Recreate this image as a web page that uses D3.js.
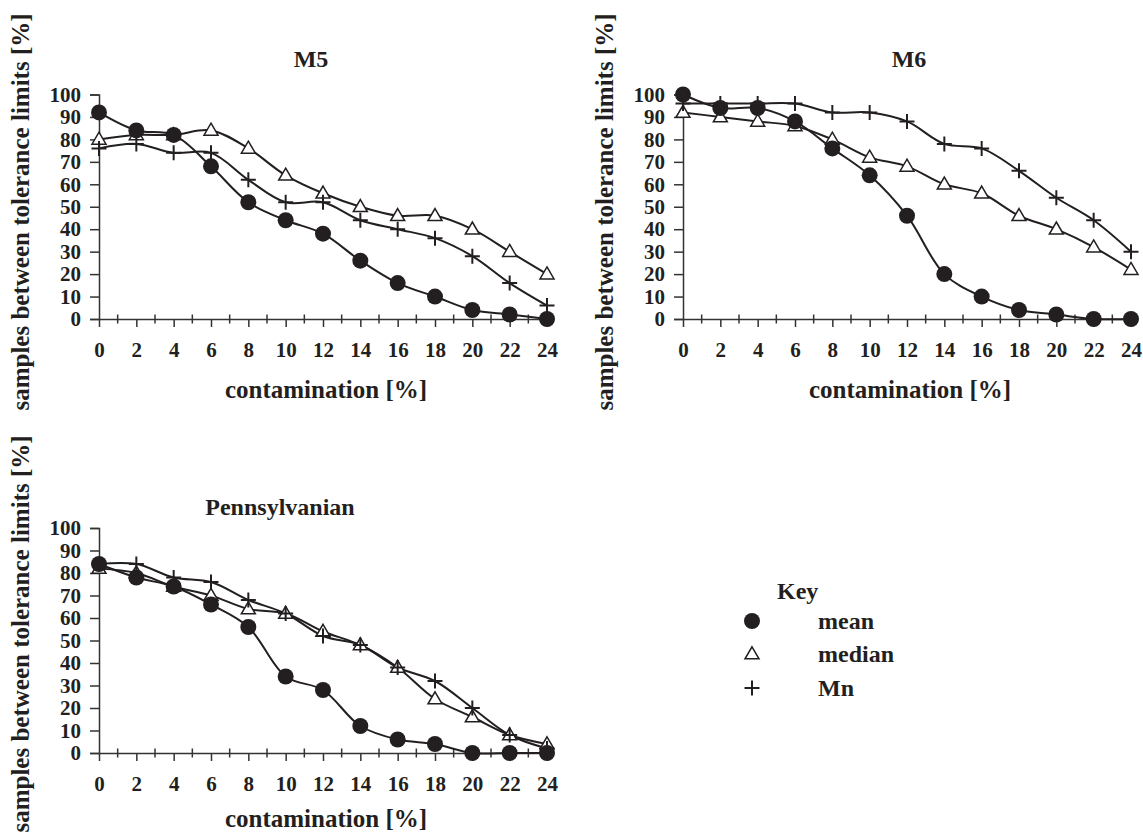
<!DOCTYPE html>
<html>
<head>
<meta charset="utf-8">
<script src="https://cdn.jsdelivr.net/npm/d3@7"></script>
<style>
  html, body { margin: 0; padding: 0; background: #fff; }
  svg { display: block; }
  text { font-family: "Liberation Serif", "Times New Roman", serif; font-weight: bold; fill: #231f20; }
</style>
</head>
<body>
<svg id="chart" width="1143" height="835"></svg>
<script>
// ---- data ----
const contamination = [0, 2, 4, 6, 8, 10, 12, 14, 16, 18, 20, 22, 24];
const yTicks = [0, 10, 20, 30, 40, 50, 60, 70, 80, 90, 100];
const seriesNames = ["mean", "median", "Mn"];
const panelTitles = ["M5", "M6", "Pennsylvanian"];

const m5Mean   = [92, 84, 82, 68, 52, 44, 38, 26, 16, 10, 4, 2, 0];
const m5Median = [80, 82, 82, 84, 76, 64, 56, 50, 46, 46, 40, 30, 20];
const m5Mn     = [76, 78, 74, 74, 62, 52, 52, 44, 40, 36, 28, 16, 6];

const m6Mean   = [100, 94, 94, 88, 76, 64, 46, 20, 10, 4, 2, 0, 0];
const m6Median = [92, 90, 88, 86, 80, 72, 68, 60, 56, 46, 40, 32, 22];
const m6Mn     = [96, 96, 96, 96, 92, 92, 88, 78, 76, 66, 54, 44, 30];

const pennMean   = [84, 78, 74, 66, 56, 34, 28, 12, 6, 4, 0, 0, 0];
const pennMedian = [82, 80, 74, 70, 64, 62, 54, 48, 38, 24, 16, 8, 4];
const pennMn     = [84, 84, 78, 76, 68, 62, 52, 48, 38, 32, 20, 8, 2];

const xLabel = "contamination [%]";
const yLabel = "samples between tolerance limits [%]";
const keyTitle = "Key";

// ---- layout ----
const ink = "#231f20";
const svg = d3.select("#chart");

const panels = [
  { title: panelTitles[0], data: [m5Mean, m5Median, m5Mn], left: 99, right: 547, bottom: 319, top: 94.5,
    titleX: 311, titleY: 67, xLabY: 398, yLabC: 212 },
  { title: panelTitles[1], data: [m6Mean, m6Median, m6Mn], left: 683, right: 1131, bottom: 319, top: 94.5,
    titleX: 909, titleY: 67, xLabY: 398, yLabC: 212 },
  { title: panelTitles[2], data: [pennMean, pennMedian, pennMn], left: 99, right: 547, bottom: 753, top: 528,
    titleX: 280, titleY: 515, xLabY: 827, yLabC: 634 }
];

function drawMarker(g, type, cx, cy) {
  if (type === "mean") {
    g.append("circle").attr("cx", cx).attr("cy", cy).attr("r", 8).attr("fill", ink);
  } else if (type === "median") {
    const s = 7, h = 12;
    g.append("path")
      .attr("d", `M${cx},${cy - h * 0.6}L${cx + s},${cy + h * 0.4}L${cx - s},${cy + h * 0.4}Z`)
      .attr("fill", "#fff").attr("stroke", ink).attr("stroke-width", 1.5);
  } else {
    const s = 7.5;
    g.append("path")
      .attr("d", `M${cx - s},${cy}H${cx + s}M${cx},${cy - s}V${cy + s}`)
      .attr("fill", "none").attr("stroke", ink).attr("stroke-width", 2);
  }
}

panels.forEach(p => {
  const x = d3.scaleLinear().domain([0, 24]).range([p.left, p.right]);
  const y = d3.scaleLinear().domain([0, 100]).range([p.bottom, p.top]);
  const g = svg.append("g");

  // y axis
  const yAxis = d3.axisLeft(y).tickValues(yTicks).tickSize(9).tickPadding(9);
  const ya = g.append("g").attr("transform", `translate(${p.left},0)`).call(yAxis);
  ya.select(".domain").attr("stroke", "#333").attr("stroke-width", 1.5);
  ya.selectAll(".tick line").attr("stroke", "#333").attr("stroke-width", 1.5);
  ya.selectAll(".tick text").style("font-family", '"Liberation Serif", serif').style("font-weight", "bold")
    .style("font-size", "21px").attr("fill", ink);

  // x axis (major ticks below)
  const xAxis = d3.axisBottom(x).tickValues(contamination).tickSize(8).tickPadding(15).tickSizeOuter(0);
  const xa = g.append("g").attr("transform", `translate(0,${p.bottom})`).call(xAxis);
  xa.select(".domain").attr("stroke", "#333").attr("stroke-width", 1.5);
  xa.selectAll(".tick line").attr("stroke", "#333").attr("stroke-width", 1.5);
  xa.selectAll(".tick text").style("font-family", '"Liberation Serif", serif').style("font-weight", "bold")
    .style("font-size", "21px").attr("fill", ink);
  // minor ticks crossing the axis
  const minor = d3.range(1, 24, 2);
  g.append("g").selectAll("line").data(minor).join("line")
    .attr("x1", d => x(d)).attr("x2", d => x(d))
    .attr("y1", p.bottom - 4.5).attr("y2", p.bottom + 4.5)
    .attr("stroke", "#333").attr("stroke-width", 1.5);

  // lines
  const line = d3.line().x((d, i) => x(contamination[i])).y(d => y(d)).curve(d3.curveCatmullRom.alpha(0.5));
  p.data.forEach(vals => {
    g.append("path").attr("d", line(vals)).attr("fill", "none").attr("stroke", ink).attr("stroke-width", 2);
  });
  // markers: median, Mn, then mean on top
  [1, 2, 0].forEach(si => {
    p.data[si].forEach((v, i) => drawMarker(g, seriesNames[si], x(contamination[i]), y(v)));
  });

  // title
  g.append("text").attr("x", p.titleX).attr("y", p.titleY).attr("text-anchor", "middle")
    .style("font-size", "24px").text(p.title);
  // x label
  g.append("text").attr("x", (p.left + p.right) / 2 + 3).attr("y", p.xLabY).attr("text-anchor", "middle")
    .style("font-size", "25px").text(xLabel);
  // y label
  g.append("text").attr("transform", `translate(${p.left - 70},${p.yLabC}) rotate(-90)`).attr("text-anchor", "middle")
    .style("font-size", "25px").text(yLabel);
});

// ---- key ----
const key = svg.append("g");
key.append("text").attr("x", 777).attr("y", 599).style("font-size", "24px").text(keyTitle);
const keyRows = [629, 662, 696];
seriesNames.forEach((name, i) => {
  drawMarker(key, name, 752, keyRows[i] - 8);
  key.append("text").attr("x", 818).attr("y", keyRows[i]).style("font-size", "24px").text(name);
});
</script>
</body>
</html>
